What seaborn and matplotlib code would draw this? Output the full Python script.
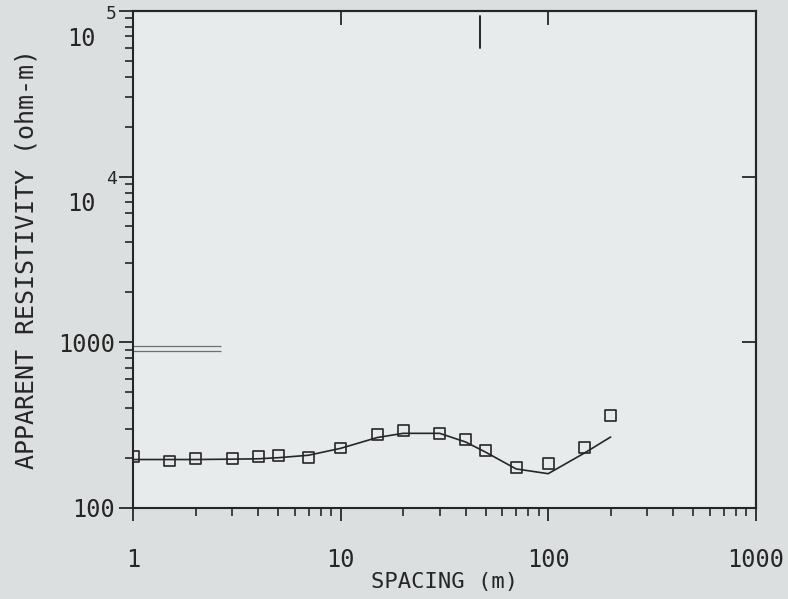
import pandas as pd
import matplotlib
matplotlib.use("Agg")
import matplotlib.pyplot as plt
import seaborn as sns
from matplotlib.ticker import LogLocator, NullFormatter, NullLocator, FixedLocator

# sounding data
spacing = [1, 1.5, 2, 3, 4, 5, 7, 10, 15, 20, 30, 40, 50, 70, 100, 150, 200]
measured = [205, 192, 200, 199, 205, 206, 201, 230, 277, 293, 280, 260, 222, 175, 185, 233, 362]
model = [196, 196, 196, 197, 198, 201, 208, 229, 266, 282, 282, 250, 217, 172, 161, 215, 268]

x_ticks = [1, 10, 100, 1000]
x_tick_labels = ["1", "10", "100", "1000"]
y_ticks = [100, 1000, 10000, 100000]
y_tick_labels = ["100", "1000", "", ""]
# the plotter writes 10^4 and 10^5 as "10" with a raised exponent
power_ticks = [10000, 100000]
power_exps = ["4", "5"]

df = pd.DataFrame({"spacing": spacing, "measured": measured, "model": model})

sns.set_theme(style="ticks")
plt.rcParams["font.family"] = ["DejaVu Sans Mono", "DejaVu Sans"]

ink = "#262626"
fig = plt.figure(figsize=(7.88, 5.99), dpi=100, facecolor="#dcdfdf")
ax = fig.add_axes([0.169, 0.152, 0.790, 0.830])
ax.set_facecolor("#e8ebeb")

sns.lineplot(data=df, x="spacing", y="model", ax=ax, color=ink, lw=1.2)
sns.scatterplot(data=df, x="spacing", y="measured", ax=ax, marker="s", s=62,
                facecolor="none", edgecolor=ink, linewidth=1.2, zorder=3)

ax.set(xscale="log", yscale="log")
ax.set_xlim(1, 1000)
ax.set_ylim(100, 100000)

ax.xaxis.set_major_locator(FixedLocator(x_ticks))
ax.set_xticklabels(x_tick_labels)
ax.xaxis.set_minor_locator(LogLocator(base=10, subs=range(2, 10)))
ax.xaxis.set_minor_formatter(NullFormatter())
ax.yaxis.set_major_locator(FixedLocator(y_ticks))
ax.set_yticklabels(y_tick_labels)
ax.yaxis.set_minor_locator(LogLocator(base=10, subs=range(2, 10)))
ax.yaxis.set_minor_formatter(NullFormatter())

ax.tick_params(axis="x", which="major", direction="out", length=9, width=1.3,
               pad=20, labelsize=17, colors=ink)
ax.tick_params(axis="x", which="minor", direction="out", length=5.5, width=1.2, colors=ink)
ax.tick_params(axis="y", which="major", direction="out", length=10, width=1.3,
               pad=3, labelsize=17, colors=ink)
ax.tick_params(axis="y", which="minor", direction="out", length=6, width=1.2, colors=ink)

for val, ex in zip(power_ticks, power_exps):
    ax.annotate("10", xy=(0, val), xycoords=ax.get_yaxis_transform(),
                xytext=(-27, -20), textcoords="offset points",
                ha="right", va="center", fontsize=17, color=ink)
    ax.annotate(ex, xy=(0, val), xycoords=ax.get_yaxis_transform(),
                xytext=(-12, -2), textcoords="offset points",
                ha="right", va="center", fontsize=13, color=ink)

# inward ticks on the top and right frame
top = ax.secondary_xaxis("top")
top.xaxis.set_major_locator(FixedLocator([10, 100]))
top.xaxis.set_minor_locator(NullLocator())
top.tick_params(direction="in", length=10, width=1.3, labeltop=False, colors=ink)
right = ax.secondary_yaxis("right")
right.yaxis.set_major_locator(FixedLocator([1000, 10000]))
right.yaxis.set_minor_locator(NullLocator())
right.tick_params(direction="in", length=10, width=1.3, labelright=False, colors=ink)

for sp in list(ax.spines.values()) + [top.spines["top"], right.spines["right"]]:
    sp.set_color(ink)
    sp.set_linewidth(1.5)

# marker line near the top and pencil marks by the 1000 tick
ax.axvline(47, ymin=0.925, ymax=0.99, color=ink, lw=1.4)
ax.hlines([950, 880], 0.99, 2.65, colors="#3a3a3a", lw=0.9, alpha=0.7, clip_on=False)

ax.set_xlabel("SPACING (m)", fontsize=16, color=ink, labelpad=0)
ax.set_ylabel("APPARENT RESISTIVITY (ohm-m)", fontsize=18, color=ink, labelpad=14)

plt.savefig("out.png", dpi=100, facecolor=fig.get_facecolor())
